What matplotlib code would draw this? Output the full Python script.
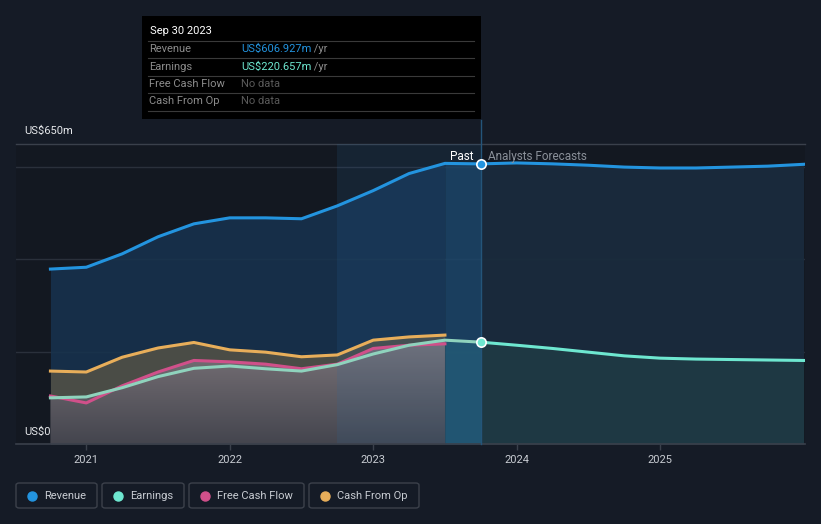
import matplotlib
matplotlib.use("Agg")
import numpy as np
import matplotlib.pyplot as plt
from matplotlib.patches import Rectangle, FancyBboxPatch
from matplotlib.lines import Line2D
from matplotlib.colors import LinearSegmentedColormap

plt.rcParams['font.family'] = ['Roboto', 'DejaVu Sans']

# quarterly history (US$m, trailing twelve months)
past_x = [2020.75, 2021.0, 2021.25, 2021.5, 2021.75, 2022.0, 2022.25, 2022.5,
          2022.75, 2023.0, 2023.25, 2023.5]
revenue_past = [379, 383, 412, 449, 477, 490, 490, 488, 516, 549, 586, 608]
earnings_past = [100, 102, 122, 146, 164, 169, 163, 158, 172, 195, 214, 225]
fcf_past = [104, 89, 126, 156, 181, 178, 173, 163, 173, 207, 214, 217]
cfo_past = [158, 156, 188, 208, 220, 204, 199, 189, 193, 225, 232, 236]

# latest point and analyst forecasts
fc_x = [2023.75, 2024.0, 2024.25, 2024.5, 2024.75, 2025.0, 2025.25, 2025.5, 2025.75, 2026.0]
revenue_fc = [606.927, 609, 607, 604, 600, 598, 598, 600, 602, 606]
earnings_fc = [220.657, 214, 207, 199, 191, 186, 184, 183, 182, 181]

year_ticks = [2021, 2022, 2023, 2024, 2025]

BG = '#151b26'
C_REV = '#2394df'
C_EARN = '#6ee7d0'
C_FCF = '#d0508a'
C_CFO = '#e8ae5a'

W, H = 821, 524
fig = plt.figure(figsize=(W / 100, H / 100), dpi=100, facecolor=BG)


def fx(px):
    return px / W


def fy(py):
    return 1 - py / H


ax = fig.add_axes([fx(16), fy(444), fx(805) - fx(16), fy(144) - fy(444)])
ax.set_facecolor('#131821')

# grid
for v in [200, 400, 600]:
    ax.axhline(v, color='#2a303b', lw=1, zorder=1)
ax.axhline(650, color='#3a404b', lw=1, zorder=1, clip_on=False)

# fills - history
ax.fill_between(past_x, revenue_past, 0, color='#17334f', alpha=0.85, lw=0, zorder=2)
ax.fill_between(past_x, cfo_past, 0, color='#4a4c46', lw=0, zorder=3)
low_top = np.maximum(earnings_past, fcf_past)
poly = ax.fill_between(past_x, low_top, 0, facecolor='none', lw=0, zorder=4)
grey = LinearSegmentedColormap.from_list('grey', ['#44454e', '#7b7479'])
grad = np.linspace(0, 1, 256).reshape(-1, 1)
im = ax.imshow(grad, extent=[past_x[0], past_x[-1], 0, max(low_top)], origin='lower',
               aspect='auto', cmap=grey, zorder=4)
im.set_clip_path(poly.get_paths()[0], transform=ax.transData)

# fills - forecast
ax.fill_between(fc_x, revenue_fc, 0, color='#1a2b3d', alpha=0.95, lw=0, zorder=2)
ax.fill_between(fc_x, earnings_fc, 0, color='#1f3a44', alpha=0.9, lw=0, zorder=3)
# the latest quarter
ax.fill_between([2023.5, 2023.75], [revenue_past[-1], revenue_fc[0]], 0,
                color='#1a4060', alpha=0.8, lw=0, zorder=3)
ax.fill_between([2023.5, 2023.75], [earnings_past[-1], earnings_fc[0]], 0,
                color='#235a70', alpha=0.8, lw=0, zorder=4)

# past-year highlight
ax.axvspan(2022.75, 2023.75, color='#2a6aa0', alpha=0.15, lw=0, zorder=5)
ax.axhline(0, color='#3a404b', lw=1.2, zorder=5, clip_on=False)

# lines
ax.plot(past_x + fc_x[:1], revenue_past + revenue_fc[:1], color=C_REV, lw=2.2, zorder=6)
ax.plot(fc_x, revenue_fc, color=C_REV, lw=2.2, zorder=6)
ax.plot(past_x, cfo_past, color=C_CFO, lw=2.2, zorder=6)
ax.plot(past_x, fcf_past, color=C_FCF, lw=2.2, zorder=6)
ax.plot(past_x + fc_x[:1], earnings_past + earnings_fc[:1], color='#8fd3bd', lw=2.2, zorder=6)
ax.plot(fc_x, earnings_fc, color=C_EARN, lw=2.2, zorder=6)

# hover line and markers
ax.plot([fc_x[0], fc_x[0]], [0, 702], color='#24557a', lw=1, zorder=5, clip_on=False)
ax.scatter([fc_x[0]], [revenue_fc[0]], s=45, color=C_REV, edgecolor='white', lw=1.2, zorder=8)
ax.scatter([fc_x[0]], [earnings_fc[0]], s=45, color=C_EARN, edgecolor='white', lw=1.2, zorder=8)

ax.text(fc_x[0] - 0.05, 622, 'Past', color='white', fontsize=8.5, ha='right', va='center', zorder=9)
ax.text(fc_x[0] + 0.05, 622, 'Analysts Forecasts', color='#8a9099', fontsize=8.5,
        ha='left', va='center', zorder=9)

ax.set_xlim(2020.51, 2026.01)
ax.set_ylim(0, 650)

# axes styling
for s in ax.spines.values():
    s.set_visible(False)
ax.set_yticks([])
ax.set_xticks(year_ticks)
ax.set_xticklabels([str(y) for y in year_ticks])
ax.tick_params(axis='x', colors='#3a404b', length=4, width=1, labelcolor='#c8ccd2',
               labelsize=8, pad=4)

fig.text(fx(24), fy(131), 'US$650m', color='#e6e8eb', fontsize=8, va='center', ha='left')
fig.text(fx(24), fy(432), 'US$0', color='#e6e8eb', fontsize=8, va='center', ha='left', zorder=10)

# tooltip
fig.patches.append(Rectangle((fx(142), fy(119)), fx(481) - fx(142), fy(16) - fy(119),
                             transform=fig.transFigure, facecolor='black', edgecolor='none',
                             zorder=10))
fig.text(fx(150), fy(31), 'Sep 30 2023', color='white', fontsize=8, va='center', zorder=11)
for py in [41, 58, 76, 93, 111]:
    fig.add_artist(Line2D([fx(148), fx(474)], [fy(py), fy(py)], color='#3a3a3a', lw=0.8,
                          zorder=11))
rows = [('Revenue', 'US$606.927m', C_REV, ' /yr'),
        ('Earnings', 'US$220.657m', C_EARN, ' /yr'),
        ('Free Cash Flow', 'No data', '#5a5a5a', ''),
        ('Cash From Op', 'No data', '#5a5a5a', '')]
for i, (lab, val, col, unit) in enumerate(rows):
    py = 49 + i * 17.5
    fig.text(fx(149), fy(py), lab, color='#8c8c8c', fontsize=8, va='center', zorder=11)
    t = fig.text(fx(241), fy(py), val, color=col, fontsize=8, va='center', zorder=11)
    if unit:
        fig.canvas.draw()
        bb = t.get_window_extent()
        fig.text(bb.x1 / W, fy(py), unit, color='#8c8c8c', fontsize=8, va='center', zorder=11)

# legend
legend = [('Revenue', C_REV, 16, 97), ('Earnings', C_EARN, 102, 184),
          ('Free Cash Flow', C_FCF, 189, 304), ('Cash From Op', C_CFO, 309, 419)]
for lab, col, x0, x1 in legend:
    fig.patches.append(FancyBboxPatch((fx(x0), fy(508)), fx(x1) - fx(x0), fy(483) - fy(508),
                                      boxstyle='round,pad=0,rounding_size=0.004',
                                      transform=fig.transFigure, facecolor='none',
                                      edgecolor='#3c414b', lw=1))
    fig.add_artist(Line2D([fx(x0 + 16)], [fy(496)], marker='o', markersize=6.5, color=col,
                          lw=0))
    fig.text(fx(x0 + 28), fy(496), lab, color='#c8ccd2', fontsize=8, va='center')

fig.savefig('out.png', dpi=100, facecolor=BG)
